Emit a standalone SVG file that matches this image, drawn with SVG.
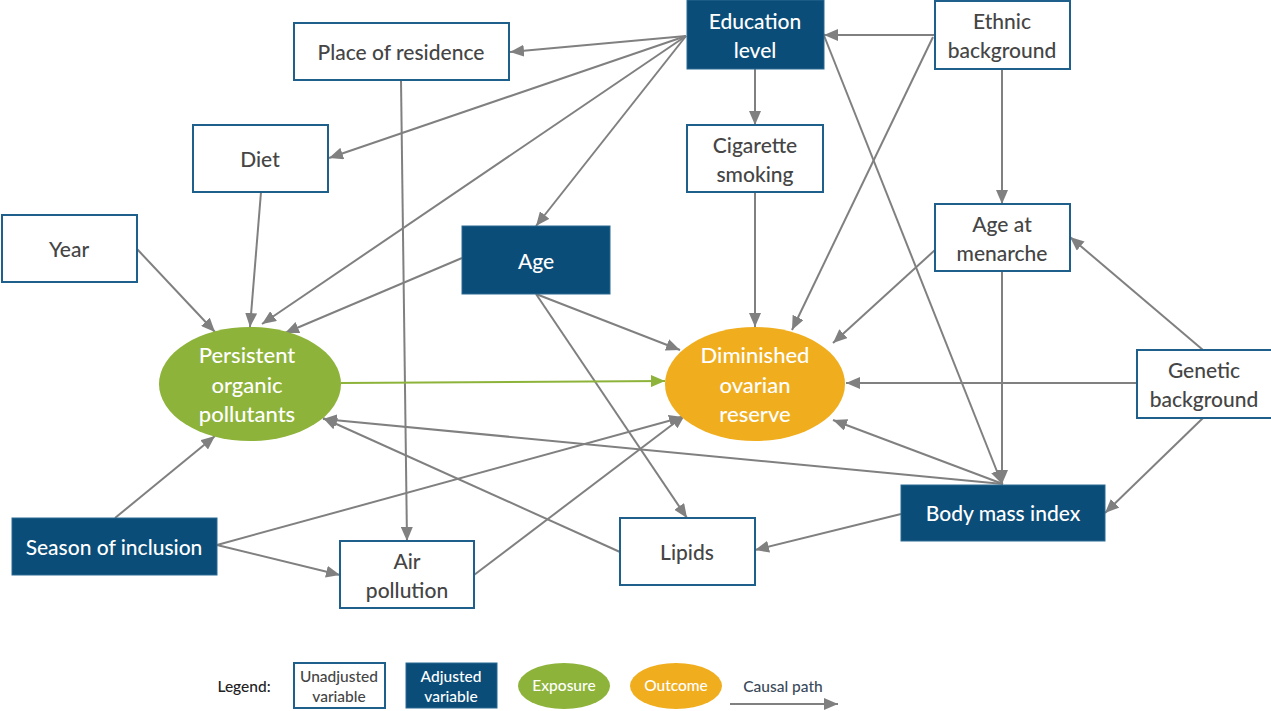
<svg xmlns="http://www.w3.org/2000/svg" width="1271" height="711" viewBox="0 0 1271 711">
<style>
.un{fill:#fff;stroke:#1f5f8b;stroke-width:2}
.ad{fill:#0a4d78;stroke:#2a6a94;stroke-width:1}
.t{font-family:Lato,"Liberation Sans",sans-serif;font-size:21px;font-weight:500;text-anchor:middle}
.te{font-size:22px}
.td{fill:#454545}
.tw{fill:#fff}
.lg{font-family:Lato,"Liberation Sans",sans-serif;font-size:15.5px;font-weight:500;text-anchor:middle}
.e{stroke:#808080;stroke-width:2;fill:none;marker-end:url(#ah)}
.eg{stroke:#8db33a;stroke-width:2;fill:none;marker-end:url(#ag)}
</style>
<defs>
<marker id="ah" viewBox="0 0 14 12" refX="14" refY="6" markerWidth="14" markerHeight="12" markerUnits="userSpaceOnUse" orient="auto"><path d="M0,0 L14,6 L0,12 z" fill="#808080"/></marker>
<marker id="ag" viewBox="0 0 14 12" refX="14" refY="6" markerWidth="14" markerHeight="12" markerUnits="userSpaceOnUse" orient="auto"><path d="M0,0 L14,6 L0,12 z" fill="#8db33a"/></marker>
</defs>
<rect width="1271" height="711" fill="#fff"/>
<g id="connectors">
<line class="e" x1="686" y1="36" x2="510" y2="52"/>
<line class="e" x1="686" y1="36" x2="329" y2="158"/>
<line class="e" x1="686" y1="36" x2="262" y2="324"/>
<line class="e" x1="686" y1="36" x2="536" y2="226"/>
<line class="e" x1="755" y1="69" x2="755" y2="125"/>
<line class="e" x1="935" y1="35" x2="824" y2="35"/>
<line class="e" x1="1002" y1="69" x2="1002" y2="204"/>
<line class="e" x1="933" y1="37" x2="792" y2="330"/>
<line class="e" x1="823" y1="33" x2="1002" y2="484"/>
<line class="e" x1="935" y1="250" x2="833" y2="343"/>
<line class="e" x1="1002" y1="271" x2="1002" y2="484"/>
<line class="e" x1="1203" y1="350" x2="1070" y2="237"/>
<line class="e" x1="1137" y1="383" x2="846" y2="383"/>
<line class="e" x1="1203" y1="418" x2="1105" y2="513"/>
<line class="e" x1="1003" y1="484" x2="833" y2="420"/>
<line class="e" x1="1003" y1="484" x2="323" y2="419"/>
<line class="e" x1="901" y1="514" x2="755" y2="550"/>
<line class="e" x1="755" y1="192" x2="755" y2="327"/>
<line class="e" x1="536" y1="294" x2="680" y2="350"/>
<line class="e" x1="536" y1="294" x2="687" y2="518"/>
<line class="e" x1="462" y1="258" x2="285" y2="333"/>
<line class="e" x1="137" y1="249" x2="215" y2="332"/>
<line class="e" x1="261" y1="192" x2="250" y2="327"/>
<line class="e" x1="401" y1="80" x2="407" y2="541"/>
<line class="eg" x1="341" y1="383" x2="665" y2="381"/>
<line class="e" x1="115" y1="518" x2="215" y2="436"/>
<line class="e" x1="217" y1="545" x2="340" y2="575"/>
<line class="e" x1="217" y1="545" x2="683" y2="417"/>
<line class="e" x1="474" y1="575" x2="685" y2="415"/>
<line class="e" x1="620" y1="552" x2="323" y2="418"/>
</g>
<g id="place"><rect class="un" x="294" y="23" width="215" height="57"/><text class="t td" x="401" y="60">Place of residence</text></g>
<g id="education"><rect class="ad" x="687" y="0" width="137" height="69"/><text class="t tw" x="755" y="29">Education</text><text class="t tw" x="755" y="58">level</text></g>
<g id="ethnic"><rect class="un" x="935" y="1" width="135" height="68"/><text class="t td" x="1002" y="29">Ethnic</text><text class="t td" x="1002" y="58">background</text></g>
<g id="diet"><rect class="un" x="193" y="125" width="135" height="67"/><text class="t td" x="260" y="167">Diet</text></g>
<g id="cigarette"><rect class="un" x="687" y="125" width="136" height="67"/><text class="t td" x="755" y="153">Cigarette</text><text class="t td" x="755" y="182">smoking</text></g>
<g id="year"><rect class="un" x="2" y="215" width="135" height="67"/><text class="t td" x="69" y="257">Year</text></g>
<g id="age"><rect class="ad" x="462" y="226" width="148" height="68"/><text class="t tw" x="536" y="269">Age</text></g>
<g id="menarche"><rect class="un" x="935" y="204" width="135" height="67"/><text class="t td" x="1002" y="232">Age at</text><text class="t td" x="1002" y="261">menarche</text></g>
<g id="pop"><ellipse cx="250" cy="384" rx="91" ry="57" fill="#8db33a"/><text class="t te tw" x="247" y="363">Persistent</text><text class="t te tw" x="247" y="393">organic</text><text class="t te tw" x="247" y="422">pollutants</text></g>
<g id="dor"><ellipse cx="755" cy="384" rx="90" ry="57" fill="#f0ae1f"/><text class="t te tw" x="755" y="363">Diminished</text><text class="t te tw" x="755" y="393">ovarian</text><text class="t te tw" x="755" y="422">reserve</text></g>
<g id="genetic"><rect class="un" x="1137" y="350" width="136" height="68"/><text class="t td" x="1204" y="378">Genetic</text><text class="t td" x="1204" y="407">background</text></g>
<g id="bmi"><rect class="ad" x="901" y="485" width="204" height="56"/><text class="t tw" x="1003" y="521">Body mass index</text></g>
<g id="season"><rect class="ad" x="12" y="518" width="205" height="57"/><text class="t tw" x="114" y="555">Season of inclusion</text></g>
<g id="air"><rect class="un" x="340" y="541" width="134" height="67"/><text class="t td" x="407" y="569">Air</text><text class="t td" x="407" y="598">pollution</text></g>
<g id="lipids"><rect class="un" x="620" y="518" width="135" height="67"/><text class="t td" x="687" y="560">Lipids</text></g>
<g id="legend">
<text class="lg" x="244" y="692" fill="#222">Legend:</text>
<rect class="un" x="294" y="663" width="91" height="45"/>
<text class="lg" x="339" y="682" fill="#454545">Unadjusted</text><text class="lg" x="339" y="702" fill="#454545">variable</text>
<rect class="ad" x="406" y="663" width="91" height="45"/>
<text class="lg" x="451" y="682" fill="#fff">Adjusted</text><text class="lg" x="451" y="702" fill="#fff">variable</text>
<ellipse cx="564" cy="686" rx="46" ry="23" fill="#8db33a"/><text class="lg" x="564" y="691" fill="#fff">Exposure</text>
<ellipse cx="676" cy="686" rx="46" ry="23" fill="#f0ae1f"/><text class="lg" x="676" y="691" fill="#fff">Outcome</text>
<text class="lg" x="783" y="692" fill="#3a4a5a">Causal path</text>
<line class="e" x1="730" y1="704" x2="838" y2="704"/>
</g>
</svg>
